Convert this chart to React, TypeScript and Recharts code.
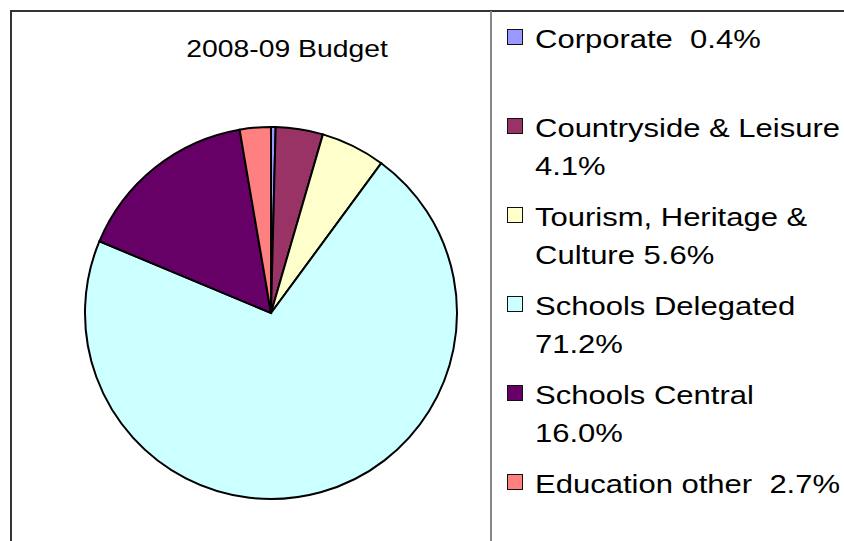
import { Cell, Legend, Pie, PieChart } from 'recharts';

const categories = [
  'Corporate',
  'Countryside & Leisure',
  'Tourism, Heritage & Culture',
  'Schools Delegated',
  'Schools Central',
  'Education other',
];
const shares = [0.4, 4.1, 5.6, 71.2, 16.0, 2.7];
const legendLines = [
  ['Corporate  0.4%'],
  ['Countryside & Leisure', '4.1%'],
  ['Tourism, Heritage &', 'Culture 5.6%'],
  ['Schools Delegated', '71.2%'],
  ['Schools Central', '16.0%'],
  ['Education other  2.7%'],
];
const COLORS = ['#9999FF', '#993366', '#FFFFCC', '#CCFFFF', '#660066', '#FF8080'];

const data = categories.map((name, i) => ({ name, value: shares[i] }));

const FONT = '"Liberation Sans", Arial, sans-serif';

// legend drawn by hand so the labels can wrap like the original
function BudgetLegend({ payload }: any) {
  const items = payload && payload.length ? payload : data.map((d, i) => ({ value: d.name, color: COLORS[i] }));
  return (
    <div style={{ position: 'relative', width: 844, height: 541 }}>
      {items.map((item: any, i: number) => {
        const baseline = 48 + i * 89;
        return (
          <div key={`legend-${i}`}>
            <div
              style={{
                position: 'absolute',
                left: 507,
                top: baseline - 19,
                width: 14,
                height: 14,
                background: COLORS[i],
                border: '1.5px solid #111',
              }}
            />
            {legendLines[i].map((line, j) => (
              <div
                key={j}
                style={{
                  position: 'absolute',
                  left: 535,
                  top: baseline - 27.7 + j * 38,
                  fontFamily: FONT,
                  fontSize: 25,
                  lineHeight: '38px',
                  color: '#000',
                  whiteSpace: 'pre',
                  transform: 'scaleX(1.24)',
                  transformOrigin: 'left center',
                }}
              >
                {line}
              </div>
            ))}
          </div>
        );
      })}
    </div>
  );
}

export default function App() {
  return (
    <div style={{ position: 'absolute', left: 0, top: 0, width: 844, height: 541, background: '#fff', overflow: 'hidden' }}>
      {/* frame */}
      <div style={{ position: 'absolute', left: 10, top: 10, width: 834, height: 2, background: '#333' }} />
      <div style={{ position: 'absolute', left: 10, top: 10, width: 2, height: 531, background: '#333' }} />
      <div style={{ position: 'absolute', left: 490, top: 11, width: 2, height: 530, background: '#888' }} />

      <div
        style={{
          position: 'absolute',
          left: 87,
          top: 33.7,
          width: 400,
          textAlign: 'center',
          fontFamily: FONT,
          fontSize: 24,
          lineHeight: '30px',
          color: '#000',
          transform: 'scaleX(1.18)',
          transformOrigin: 'center',
        }}
      >
        2008-09 Budget
      </div>

      <div style={{ position: 'absolute', left: 0, top: 0 }}>
        <PieChart width={844} height={541} margin={{ top: 0, right: 0, bottom: 0, left: 0 }}>
          <Pie
            data={data}
            dataKey="value"
            nameKey="name"
            cx={271}
            cy={313}
            outerRadius={186}
            startAngle={90}
            endAngle={-270}
            stroke="#000"
            strokeWidth={2}
            isAnimationActive={false}
          >
            {data.map((_, index) => (
              <Cell key={`cell-${index}`} fill={COLORS[index % COLORS.length]} />
            ))}
          </Pie>
          <Legend
            content={<BudgetLegend />}
            wrapperStyle={{ position: 'absolute', left: 0, top: 0, width: 844, height: 541, pointerEvents: 'none' }}
          />
        </PieChart>
      </div>
    </div>
  );
}
